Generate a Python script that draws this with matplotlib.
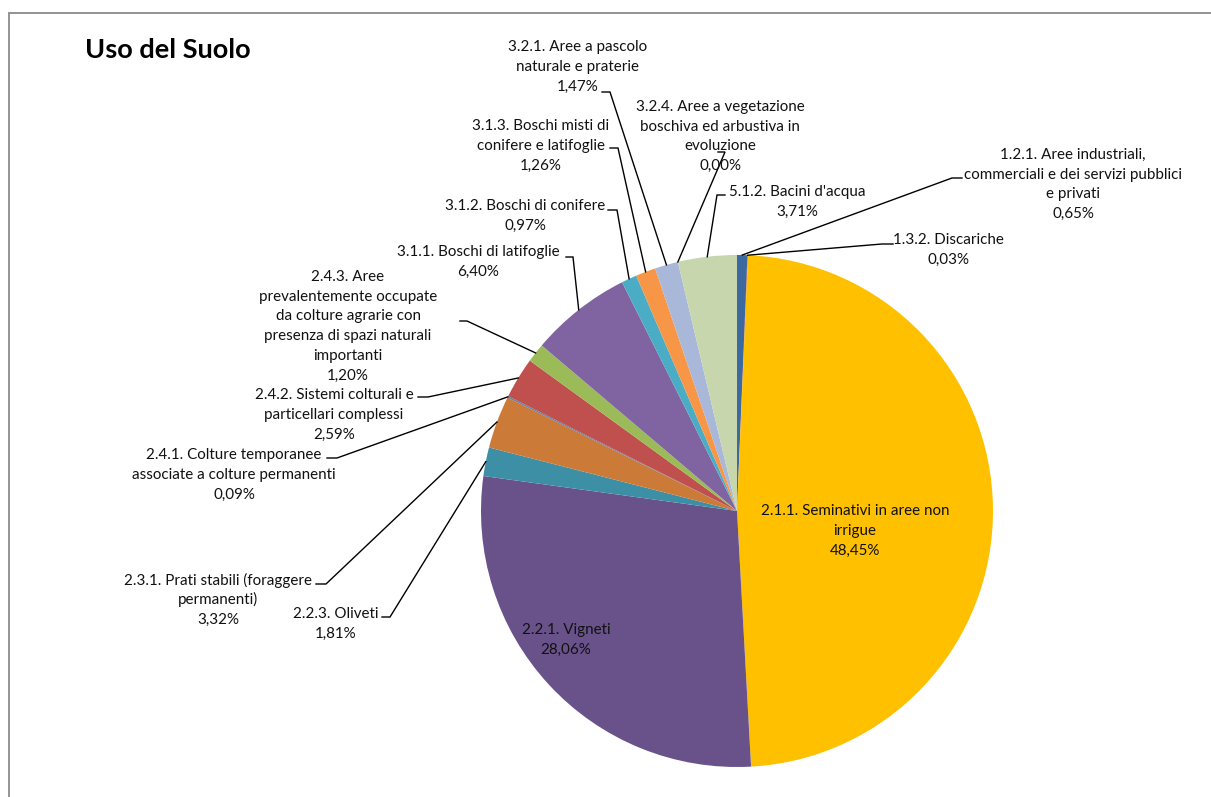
import matplotlib
matplotlib.use("Agg")
import matplotlib.pyplot as plt
import numpy as np

# ---------------- data ----------------
codes = ["1.2.1.", "1.3.2.", "2.1.1.", "2.2.1.", "2.2.3.", "2.3.1.", "2.4.1.",
         "2.4.2.", "2.4.3.", "3.1.1.", "3.1.2.", "3.1.3.", "3.2.1.", "3.2.4.", "5.1.2."]
label_lines = [
    ["1.2.1. Aree industriali,", "commerciali e dei servizi pubblici", "e privati"],
    ["1.3.2. Discariche"],
    ["2.1.1. Seminativi in aree non", "irrigue"],
    ["2.2.1. Vigneti"],
    ["2.2.3. Oliveti"],
    ["2.3.1. Prati stabili (foraggere", "permanenti)"],
    ["2.4.1. Colture temporanee", "associate a colture permanenti"],
    ["2.4.2. Sistemi colturali e", "particellari complessi"],
    ["2.4.3. Aree", "prevalentemente occupate", "da colture agrarie con",
     "presenza di spazi naturali", "importanti"],
    ["3.1.1. Boschi di latifoglie"],
    ["3.1.2. Boschi di conifere"],
    ["3.1.3. Boschi misti di", "conifere e latifoglie"],
    ["3.2.1. Aree a pascolo", "naturale e praterie"],
    ["3.2.4. Aree a vegetazione", "boschiva ed arbustiva in", "evoluzione"],
    ["5.1.2. Bacini d'acqua"],
]
values = [0.65, 0.03, 48.45, 28.06, 1.81, 3.32, 0.09, 2.59, 1.20, 6.40, 0.97, 1.26, 1.47, 0.00, 3.71]
title = "Uso del Suolo"

# ---------------- style / layout ----------------
colors = ["#3C699F", "#A5403D", "#FFC000", "#69518A", "#3D8FA6", "#CC7A38", "#4F81BD",
          "#C0504D", "#9BBB59", "#8064A2", "#4BACC6", "#F79646", "#A9B8D8", "#D2A7A6", "#C7D6AD"]

W, H = 1211, 797
# label anchor (center x, first line y) in pixel coords (y from top)
label_pos = [(1073, 155), (948, 240), (855, 511), (566, 630), (336, 614), (218, 580),
             (234, 455), (334, 395), (348, 277), (478, 252), (525, 206), (541, 126),
             (578, 47), (720, 107), (797, 192)]
# short horizontal leader segment near the text (x_text_side, x_outer, y) ; None = inside label
elbows = [(962, 952, 178), (893, 882, 244), None, None, (382, 390, 617), (316, 326, 584),
          (327, 337, 458), (418, 428, 397), (460, 467, 321), (566, 573, 257),
          (608, 617, 210), (610, 618, 148), (602, 610, 92), (718, 725, 152), (725, 717, 195)]
line_step = 19.7
center_px = (737, 511)
radius_px = 256

FONT = ["Lato", "DejaVu Sans"]
fs = 10.9

fig = plt.figure(figsize=(W / 100, H / 100), dpi=100)
ax = fig.add_axes([0, 0, 1, 1])

def Y(y):
    return H - y

wedges, _ = ax.pie(values, colors=colors, startangle=90, counterclock=False,
                   center=(center_px[0], Y(center_px[1])), radius=radius_px,
                   wedgeprops=dict(linewidth=0), frame=True)
ax.set_xlim(0, W)
ax.set_ylim(0, H)
ax.set_aspect("equal")
ax.axis("off")

# chart border (gray, top + left visible)
ax.plot([8.5, 8.5, W + 5], [-5, Y(12.5), Y(12.5)], color="#8a8a8a", lw=1.3,
        solid_joinstyle="miter", clip_on=False)

# title
ax.text(85, Y(50), title, fontsize=19.5, fontweight="bold", family=FONT,
        ha="left", va="center", color="black")

for i, (lines, v) in enumerate(zip(label_lines, values)):
    pct = f"{v:.2f}".replace(".", ",") + "%"
    all_lines = lines + [pct]
    cx, y0 = label_pos[i]
    for k, t in enumerate(all_lines):
        ax.text(cx, Y(y0 + k * line_step), t, fontsize=fs, family=FONT,
                ha="center", va="center", color="#111111")
    e = elbows[i]
    if e is not None:
        w = wedges[i]
        mid = np.deg2rad((w.theta1 + w.theta2) / 2)
        px = w.center[0] + w.r * np.cos(mid)
        py = w.center[1] + w.r * np.sin(mid)
        ax.plot([e[0], e[1], px], [Y(e[2]), Y(e[2]), py], color="black", lw=1.0,
                solid_joinstyle="miter")

fig.savefig("out.png", dpi=100, facecolor="white")
